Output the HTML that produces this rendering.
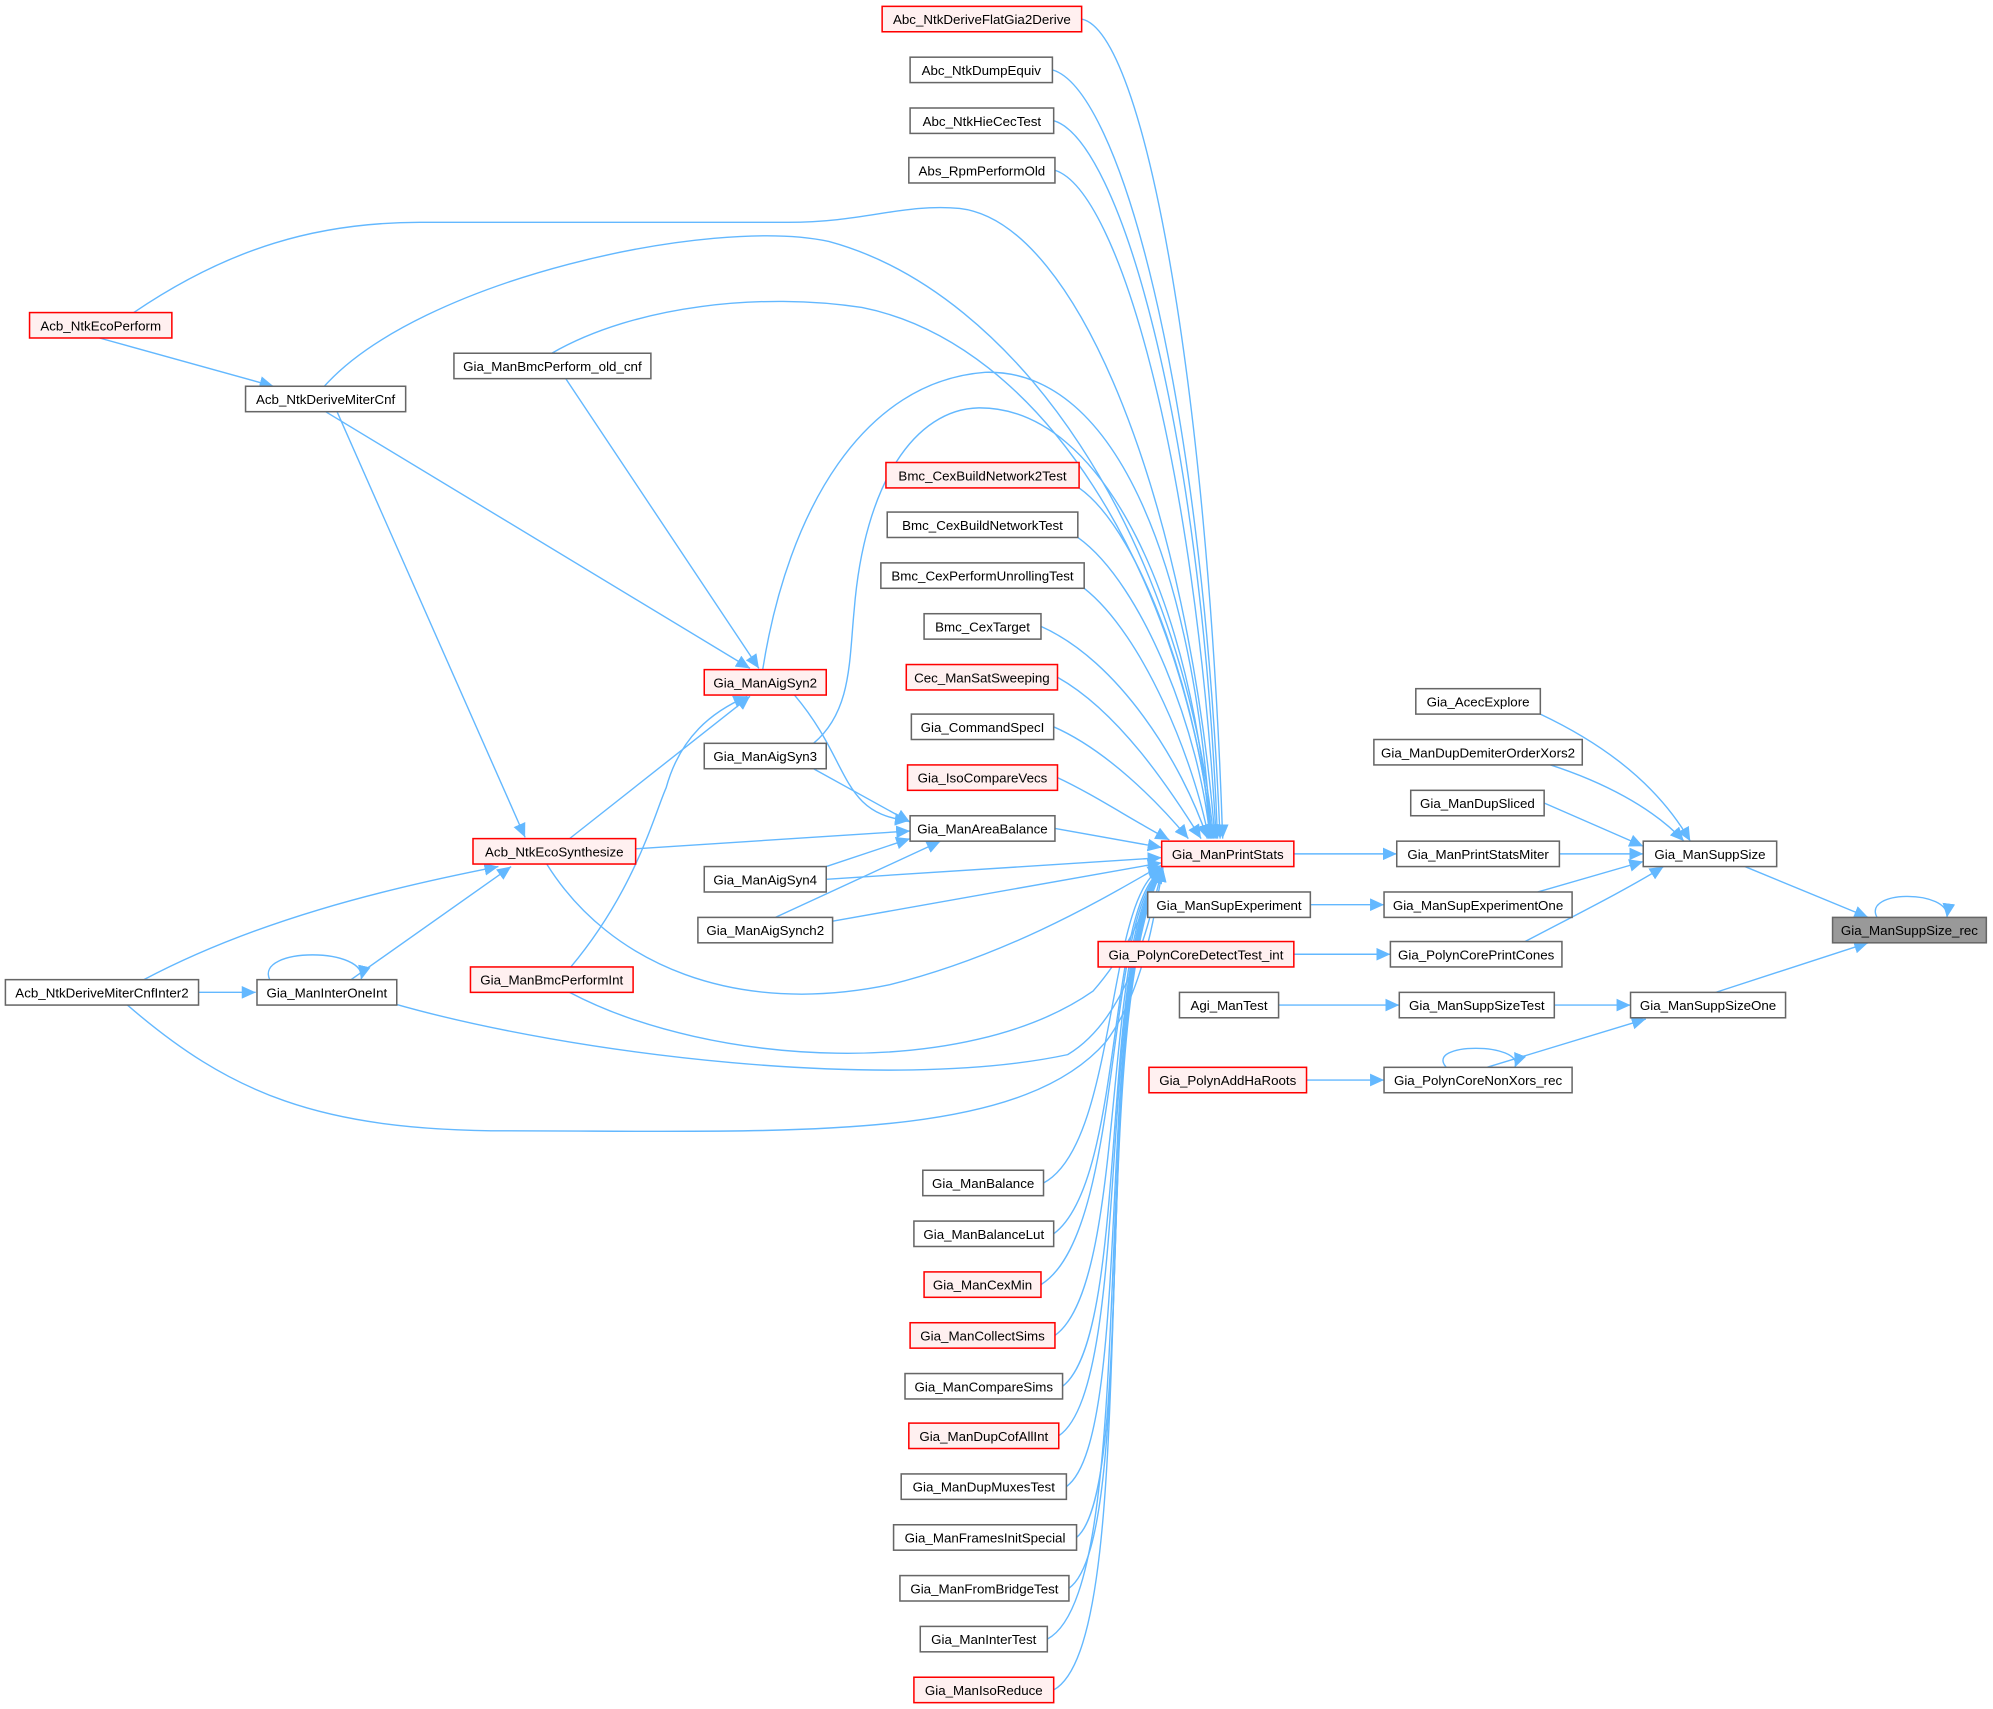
<!DOCTYPE html>
<html><head><meta charset="utf-8"><style>
html,body{margin:0;padding:0;background:#fff;}
svg{display:block;}
text{font-family:"Liberation Sans",Arial,sans-serif;font-size:10.5px;fill:#000;text-anchor:middle;}
.e{fill:none;stroke:#63b8ff;stroke-width:1.1;}
.n{fill:#fff;stroke:#666;stroke-width:1.2;}
.r{fill:#fff0f0;stroke:#ff0000;stroke-width:1.2;}
.g{fill:#999;stroke:#666;stroke-width:1.2;}
</style></head><body>
<svg width="1993" height="1709" viewBox="0 0 1568 1345" xmlns="http://www.w3.org/2000/svg">
<defs><marker id="a" markerUnits="userSpaceOnUse" markerWidth="12" markerHeight="10" refX="11" refY="5" orient="auto"><path d="M0,0 L11,5 L0,10 z" fill="#63b8ff"/></marker></defs>
<g marker-end="url(#a)">
<path class="e" d="M851,15 C900,25 950,300 962,660"/>
<path class="e" d="M828,55 C880,70 945,300 960,660"/>
<path class="e" d="M829,95 C880,110 945,330 958,660"/>
<path class="e" d="M830,134 C880,150 940,360 957,660"/>
<path class="e" d="M105,246 C180,195 250,175 330,175 L620,175 C680,175 710,160 755,164 C850,175 935,400 956,660"/>
<path class="e" d="M255,304 C330,220 560,170 652,190 C800,230 930,420 955,660"/>
<path class="e" d="M434,278 C500,240 600,230 678,242 C820,270 930,450 954,660"/>
<path class="e" d="M849,384 C900,420 945,560 953,660"/>
<path class="e" d="M848,423 C900,460 945,580 952,660"/>
<path class="e" d="M853,463 C900,500 940,600 951,660"/>
<path class="e" d="M819,493 C880,520 930,600 950,660"/>
<path class="e" d="M832,533 C880,560 920,620 945,660"/>
<path class="e" d="M829,572 C870,590 910,630 935,660"/>
<path class="e" d="M832,612 C860,625 890,645 920,661"/>
<path class="e" d="M830,652 L914,667"/>
<path class="e" d="M600,527 C620,400 680,300 775,293 C880,290 940,450 953,660"/>
<path class="e" d="M640,585 C670,560 668,520 672,480 C680,380 720,322 770,321 C870,320 940,480 952,660"/>
<path class="e" d="M650,692 L914,675"/>
<path class="e" d="M655,725 L914,679"/>
<path class="e" d="M430,680 C480,760 580,800 700,775 C800,750 880,700 914,681"/>
<path class="e" d="M448,781 C560,840 760,850 860,780 C895,740 905,700 914,682"/>
<path class="e" d="M310,790 C450,830 700,860 840,830 C890,800 905,720 915,682"/>
<path class="e" d="M100,791 C180,860 250,890 400,890 C620,890 800,900 870,820 C900,780 908,720 915,683"/>
<path class="e" d="M821,931 C880,900 870,700 915,683"/>
<path class="e" d="M829,971 C885,930 870,710 915,684"/>
<path class="e" d="M819,1011 C885,970 868,720 915,684"/>
<path class="e" d="M830,1051 C888,1010 866,730 915,684"/>
<path class="e" d="M836,1091 C890,1050 864,740 915,684"/>
<path class="e" d="M833,1130 C892,1090 862,750 915,684"/>
<path class="e" d="M839,1170 C894,1130 860,760 915,684"/>
<path class="e" d="M847,1210 C896,1170 858,770 915,684"/>
<path class="e" d="M841,1250 C898,1210 856,780 915,684"/>
<path class="e" d="M824,1290 C900,1250 854,790 915,684"/>
<path class="e" d="M829,1330 C902,1290 852,800 915,684"/>
<path class="e" d="M78,266 L215,304"/>
<path class="e" d="M256,324 L590,526"/>
<path class="e" d="M265,324 L413,659"/>
<path class="e" d="M445,298 L597,526"/>
<path class="e" d="M448,660 L590,548"/>
<path class="e" d="M449,761 C500,700 515,640 524,620 C535,580 560,560 588,548"/>
<path class="e" d="M113,771 C200,725 300,700 392,682"/>
<path class="e" d="M276,771 L402,682"/>
<path class="e" d="M156,781 L201,781"/>
<path class="e" d="M212,771 C200,745 290,745 284,771"/>
<path class="e" d="M625,547 C670,600 660,640 715,646"/>
<path class="e" d="M640,605 L716,647"/>
<path class="e" d="M500,668 L716,654"/>
<path class="e" d="M650,682 L716,660"/>
<path class="e" d="M610,722 L740,662"/>
<path class="e" d="M1018,672 L1099,672"/>
<path class="e" d="M1227,672 L1293,672"/>
<path class="e" d="M1212,562 C1250,580 1300,610 1330,662"/>
<path class="e" d="M1220,602 C1260,615 1300,635 1325,662"/>
<path class="e" d="M1215,632 L1293,666"/>
<path class="e" d="M1210,702 L1293,678"/>
<path class="e" d="M1200,741 C1240,720 1280,700 1309,682"/>
<path class="e" d="M1031,712 L1089,712"/>
<path class="e" d="M1018,751 L1094,751"/>
<path class="e" d="M1006,791 L1101,791"/>
<path class="e" d="M1223,791 L1283,791"/>
<path class="e" d="M1028,850 L1089,850"/>
<path class="e" d="M1170,840 L1295,802"/>
<path class="e" d="M1138,840 C1120,820 1200,820 1192,840"/>
<path class="e" d="M1373,682 L1470,722"/>
<path class="e" d="M1350,781 L1470,742"/>
<path class="e" d="M1477,722 C1465,700 1535,700 1532,722"/>
</g>
<g>
<rect class="r" x="694" y="5" width="157" height="20"/><text x="772.5" y="19">Abc_NtkDeriveFlatGia2Derive</text>
<rect class="n" x="716" y="45" width="112" height="20"/><text x="772" y="59">Abc_NtkDumpEquiv</text>
<rect class="n" x="716" y="85" width="113" height="20"/><text x="772.5" y="99">Abc_NtkHieCecTest</text>
<rect class="n" x="715" y="124" width="115" height="20"/><text x="772.5" y="138">Abs_RpmPerformOld</text>
<rect class="r" x="23" y="246" width="112" height="20"/><text x="79" y="260">Acb_NtkEcoPerform</text>
<rect class="n" x="193" y="304" width="126" height="20"/><text x="256" y="318">Acb_NtkDeriveMiterCnf</text>
<rect class="n" x="357" y="278" width="155" height="20"/><text x="434.5" y="292">Gia_ManBmcPerform_old_cnf</text>
<rect class="r" x="697" y="364" width="152" height="20"/><text x="773" y="378">Bmc_CexBuildNetwork2Test</text>
<rect class="n" x="698" y="403" width="150" height="20"/><text x="773" y="417">Bmc_CexBuildNetworkTest</text>
<rect class="n" x="693" y="443" width="160" height="20"/><text x="773" y="457">Bmc_CexPerformUnrollingTest</text>
<rect class="n" x="727" y="483" width="92" height="20"/><text x="773" y="497">Bmc_CexTarget</text>
<rect class="r" x="713" y="523" width="119" height="20"/><text x="772.5" y="537">Cec_ManSatSweeping</text>
<rect class="r" x="554" y="527" width="96" height="20"/><text x="602" y="541">Gia_ManAigSyn2</text>
<rect class="n" x="717" y="562" width="112" height="20"/><text x="773" y="576">Gia_CommandSpecI</text>
<rect class="r" x="714" y="602" width="118" height="20"/><text x="773" y="616">Gia_IsoCompareVecs</text>
<rect class="n" x="554" y="585" width="96" height="20"/><text x="602" y="599">Gia_ManAigSyn3</text>
<rect class="n" x="716" y="642" width="114" height="20"/><text x="773" y="656">Gia_ManAreaBalance</text>
<rect class="r" x="372" y="660" width="128" height="20"/><text x="436" y="674">Acb_NtkEcoSynthesize</text>
<rect class="r" x="914" y="662" width="104" height="20"/><text x="966" y="676">Gia_ManPrintStats</text>
<rect class="n" x="554" y="682" width="96" height="20"/><text x="602" y="696">Gia_ManAigSyn4</text>
<rect class="n" x="549" y="722" width="106" height="20"/><text x="602" y="736">Gia_ManAigSynch2</text>
<rect class="n" x="4" y="771" width="152" height="20"/><text x="80" y="785">Acb_NtkDeriveMiterCnfInter2</text>
<rect class="n" x="202" y="771" width="110" height="20"/><text x="257" y="785">Gia_ManInterOneInt</text>
<rect class="r" x="370" y="761" width="128" height="20"/><text x="434" y="775">Gia_ManBmcPerformInt</text>
<rect class="n" x="726" y="921" width="95" height="20"/><text x="773.5" y="935">Gia_ManBalance</text>
<rect class="n" x="719" y="961" width="110" height="20"/><text x="774" y="975">Gia_ManBalanceLut</text>
<rect class="r" x="727" y="1001" width="92" height="20"/><text x="773" y="1015">Gia_ManCexMin</text>
<rect class="r" x="716" y="1041" width="114" height="20"/><text x="773" y="1055">Gia_ManCollectSims</text>
<rect class="n" x="712" y="1081" width="124" height="20"/><text x="774" y="1095">Gia_ManCompareSims</text>
<rect class="r" x="715" y="1120" width="118" height="20"/><text x="774" y="1134">Gia_ManDupCofAllInt</text>
<rect class="n" x="709" y="1160" width="130" height="20"/><text x="774" y="1174">Gia_ManDupMuxesTest</text>
<rect class="n" x="703" y="1200" width="144" height="20"/><text x="775" y="1214">Gia_ManFramesInitSpecial</text>
<rect class="n" x="708" y="1240" width="133" height="20"/><text x="774.5" y="1254">Gia_ManFromBridgeTest</text>
<rect class="n" x="724" y="1280" width="100" height="20"/><text x="774" y="1294">Gia_ManInterTest</text>
<rect class="r" x="719" y="1320" width="110" height="20"/><text x="774" y="1334">Gia_ManIsoReduce</text>
<rect class="n" x="1114" y="542" width="98" height="20"/><text x="1163" y="556">Gia_AcecExplore</text>
<rect class="n" x="1081" y="582" width="164" height="20"/><text x="1163" y="596">Gia_ManDupDemiterOrderXors2</text>
<rect class="n" x="1110" y="622" width="105" height="20"/><text x="1162.5" y="636">Gia_ManDupSliced</text>
<rect class="n" x="1099" y="662" width="128" height="20"/><text x="1163" y="676">Gia_ManPrintStatsMiter</text>
<rect class="n" x="1293" y="662" width="105" height="20"/><text x="1345.5" y="676">Gia_ManSuppSize</text>
<rect class="n" x="903" y="702" width="128" height="20"/><text x="967" y="716">Gia_ManSupExperiment</text>
<rect class="n" x="1089" y="702" width="148" height="20"/><text x="1163" y="716">Gia_ManSupExperimentOne</text>
<rect class="r" x="864" y="741" width="154" height="20"/><text x="941" y="755">Gia_PolynCoreDetectTest_int</text>
<rect class="n" x="1094" y="741" width="135" height="20"/><text x="1161.5" y="755">Gia_PolynCorePrintCones</text>
<rect class="n" x="928" y="781" width="78" height="20"/><text x="967" y="795">Agi_ManTest</text>
<rect class="n" x="1101" y="781" width="122" height="20"/><text x="1162" y="795">Gia_ManSuppSizeTest</text>
<rect class="n" x="1283" y="781" width="122" height="20"/><text x="1344" y="795">Gia_ManSuppSizeOne</text>
<rect class="r" x="904" y="840" width="124" height="20"/><text x="966" y="854">Gia_PolynAddHaRoots</text>
<rect class="n" x="1089" y="840" width="148" height="20"/><text x="1163" y="854">Gia_PolynCoreNonXors_rec</text>
<rect class="g" x="1442" y="722" width="121" height="20"/><text x="1502.5" y="736">Gia_ManSuppSize_rec</text>
</g>
</svg>
</body></html>
